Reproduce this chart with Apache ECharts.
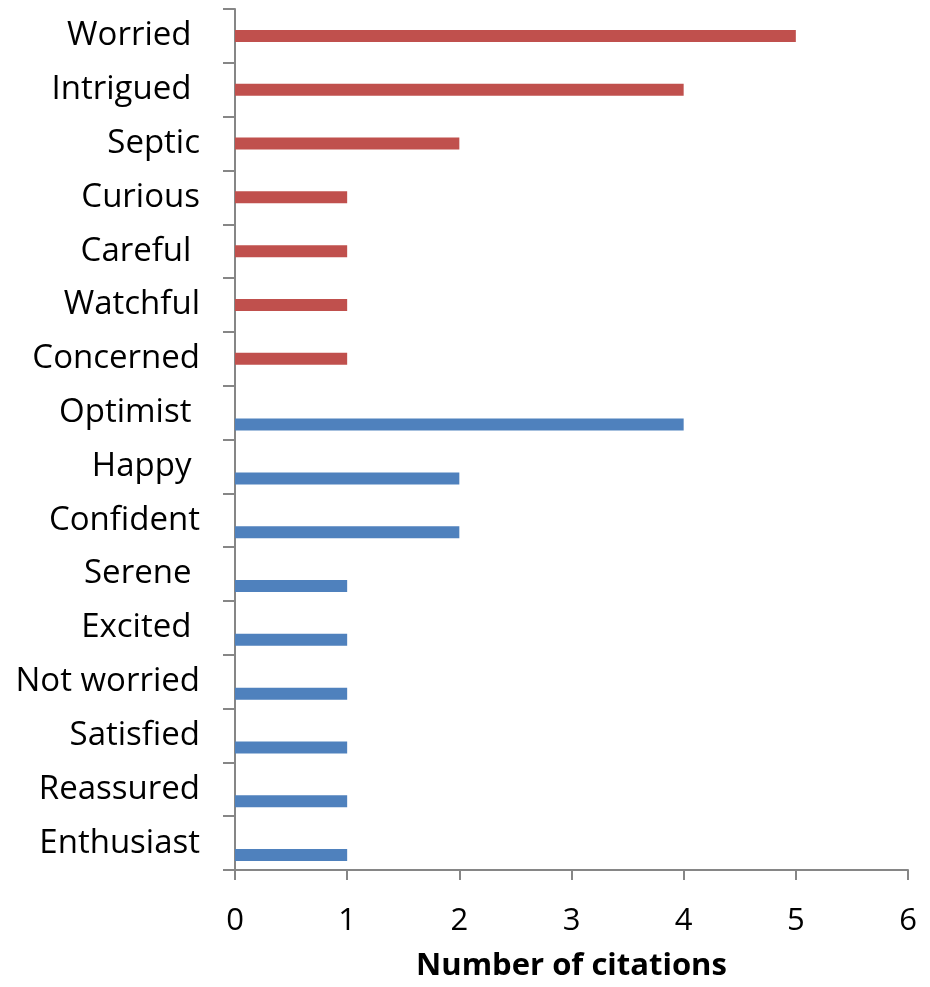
<!DOCTYPE html>
<html>
<head>
<meta charset="utf-8">
<script src="https://cdn.jsdelivr.net/npm/echarts@6/dist/echarts.min.js"></script>
<style>
  html, body { margin: 0; padding: 0; background: #fff; }
  #chart { width: 930px; height: 987px; }
</style>
</head>
<body>
<div id="chart"></div>
<script>
// Feelings cited, top to bottom (trailing spaces kept as in the source labels)
const categories = [
  'Worried ', 'Intrigued ', 'Septic', 'Curious', 'Careful ', 'Watchful', 'Concerned',
  'Optimist ', 'Happy ', 'Confident', 'Serene ', 'Excited ', 'Not worried', 'Satisfied',
  'Reassured', 'Enthusiast'
];
// Negative feelings (red) and positive feelings (blue); '-' = no bar in that row
const negativeCitations = [5, 4, 2, 1, 1, 1, 1, '-', '-', '-', '-', '-', '-', '-', '-', '-'];
const positiveCitations = ['-', '-', '-', '-', '-', '-', '-', 4, 2, 2, 1, 1, 1, 1, 1, 1];
// Empty series that reserves the upper slot of each row
const emptySlot = categories.map(() => '-');
const xTicks = [0, 1, 2, 3, 4, 5, 6];

const FONT = '"Open Sans", sans-serif';
const AXIS_GREY = '#868686';

const chart = echarts.init(document.getElementById('chart'), null, { renderer: 'canvas' });
chart.setOption({
  animation: false,
  backgroundColor: '#ffffff',
  grid: { left: 235, right: 22, top: 9, bottom: 117, containLabel: false },
  xAxis: {
    type: 'value',
    min: xTicks[0],
    max: xTicks[xTicks.length - 1],
    interval: 1,
    name: 'Number of citations',
    nameLocation: 'middle',
    nameGap: 81,
    nameTextStyle: { fontFamily: FONT, fontSize: 31, fontWeight: 'bold', color: '#000' },
    axisLine: { show: true, lineStyle: { color: AXIS_GREY, width: 2 } },
    axisTick: { show: true, length: 10, lineStyle: { color: AXIS_GREY, width: 2 } },
    axisLabel: { fontFamily: FONT, fontSize: 31, color: '#000', margin: 36 },
    splitLine: { show: false }
  },
  yAxis: {
    type: 'category',
    data: categories,
    inverse: true,
    axisLine: { show: true, lineStyle: { color: AXIS_GREY, width: 2 } },
    axisTick: { show: true, length: 12, lineStyle: { color: AXIS_GREY, width: 2 } },
    axisLabel: {
      fontFamily: FONT, fontSize: 33, color: '#000', margin: 35, interval: 0,
      padding: [4, 0, 0, 0]
    },
    splitLine: { show: false }
  },
  series: [
    { name: 'slot', type: 'bar', data: emptySlot, barWidth: 12, barGap: '0%', silent: true },
    {
      name: 'Negative', type: 'bar', data: negativeCitations, barWidth: 12, barGap: '0%',
      itemStyle: { color: '#C0504D' }
    },
    {
      name: 'Positive', type: 'bar', data: positiveCitations, barWidth: 12, barGap: '0%',
      itemStyle: { color: '#4F81BD' }
    }
  ]
});
</script>
</body>
</html>
